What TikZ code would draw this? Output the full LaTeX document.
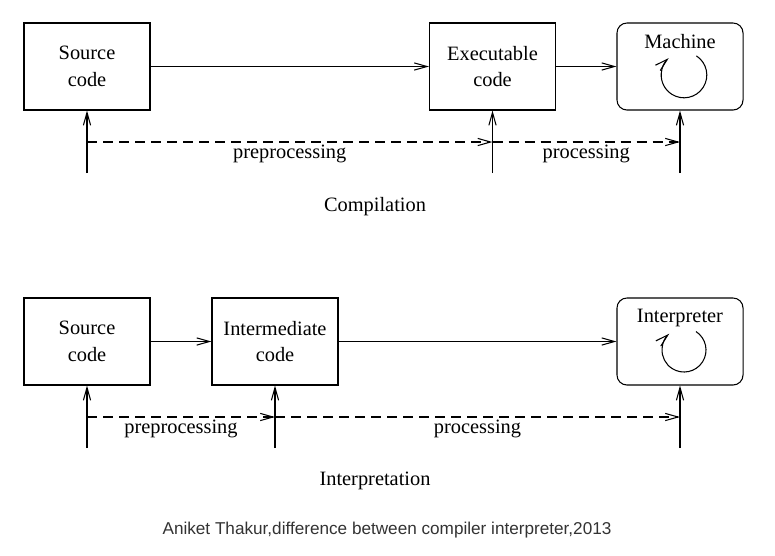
\documentclass[tikz,border=0pt]{standalone}
\usepackage{fontspec}
\setmainfont{Liberation Serif}
\newfontfamily\capfont{Liberation Sans}
\usetikzlibrary{arrows.meta}
\definecolor{capgray}{HTML}{333333}
\begin{document}
\begin{tikzpicture}[x=0.025cm,y=0.025cm,line width=0.75pt,
  font=\fontsize{14.5}{19}\selectfont,
  >={Straight Barb[length=3.2mm,width=1.8mm]},
  box/.style={draw,minimum width=3.15cm,minimum height=2.175cm,align=center,inner sep=0pt},
  rbox/.style={box,rounded corners=0.25cm},
  flow/.style={dash pattern=on 0.25cm off 0.15cm}]
\useasboundingbox (0,0) rectangle (775,-555);

\node[box] (src1) at (87,-66.5) {Source\\code};
\node[box] (exe) at (492.5,-66.5) {Executable\\code};
\node[rbox] (mach) at (680,-66.5) {};
\node (machlbl) at (680,-42) {Machine};
\node[below] (comp) at (375,-192) {Compilation};

\coordinate (b1) at (87,-173);
\coordinate (b2) at (492.5,-173);
\coordinate (b3) at (680,-173);
\coordinate (d1) at (87,-142);
\coordinate (d2) at (492.5,-142);
\coordinate (d3) at (680,-142);

\draw[->] (src1) -- (exe);
\draw[->] (exe) -- (mach);
\draw[->] (b1) -- (src1);
\draw[->] (b2) -- (exe);
\draw[->] (b3) -- (mach);
\draw[flow,->] (d1) -- (d2) node[midway,below,inner sep=2pt] {preprocessing};
\draw[flow,->] (d2) -- (d3) node[midway,below,inner sep=2pt] {processing};
\draw[->] (684,-75) ++(57:0.57cm) arc[start angle=57,end angle=-228,radius=0.57cm];

\node[box] (src2) at (87,-341.5) {Source\\code};
\node[box] (inter) at (275,-341.5) {Intermediate\\code};
\node[rbox] (interp) at (680,-341.5) {};
\node (interplbl) at (680,-318) {Interpreter};
\node[below] (intn) at (375,-467) {Interpretation};

\coordinate (c1) at (87,-448);
\coordinate (c2) at (275,-448);
\coordinate (c3) at (680,-448);
\coordinate (e1) at (87,-417);
\coordinate (e2) at (275,-417);
\coordinate (e3) at (680,-417);

\draw[->] (src2) -- (inter);
\draw[->] (inter) -- (interp);
\draw[->] (c1) -- (src2);
\draw[->] (c2) -- (inter);
\draw[->] (c3) -- (interp);
\draw[flow,->] (e1) -- (e2) node[midway,below,inner sep=2pt] {preprocessing};
\draw[flow,->] (e2) -- (e3) node[midway,below,inner sep=2pt] {processing};
\draw[->] (684,-350) ++(57:0.55cm) arc[start angle=57,end angle=-228,radius=0.55cm];

\node[font=\capfont\fontsize{12.2}{14}\selectfont,text=capgray] (cap) at (387,-530) {Aniket Thakur,difference between compiler interpreter,2013};
\end{tikzpicture}
\end{document}
